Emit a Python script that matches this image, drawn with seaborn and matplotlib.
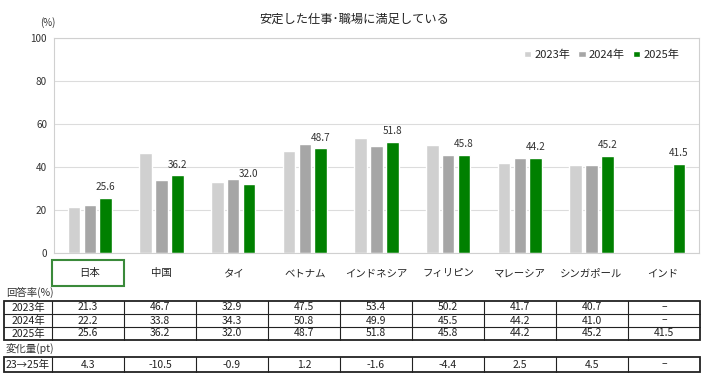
import numpy as np
import pandas as pd
import seaborn as sns
import matplotlib.pyplot as plt
from matplotlib.patches import Rectangle

countries = ["日本", "中国", "タイ", "ベトナム", "インドネシア", "フィリピン",
             "マレーシア", "シンガポール", "インド"]
years = ["2023年", "2024年", "2025年"]
rate_2023 = [21.3, 46.7, 32.9, 47.5, 53.4, 50.2, 41.7, 40.7, None]
rate_2024 = [22.2, 33.8, 34.3, 50.8, 49.9, 45.5, 44.2, 41.0, None]
rate_2025 = [25.6, 36.2, 32.0, 48.7, 51.8, 45.8, 44.2, 45.2, 41.5]
change_23_25 = [4.3, -10.5, -0.9, 1.2, -1.6, -4.4, 2.5, 4.5, None]
year_colors = {"2023年": "#d0d0d0", "2024年": "#a6a6a6", "2025年": "#008000"}

W, H = 707, 379
sns.set_theme(style="white")
plt.rcParams["font.family"] = ["Noto Sans CJK JP", "DejaVu Sans"]

df = pd.DataFrame({
    "country": countries * 3,
    "year": np.repeat(years, len(countries)),
    "rate": rate_2023 + rate_2024 + rate_2025,
}).dropna()


def px(x0, y0, x1, y1):
    return [x0 / W, 1 - y1 / H, (x1 - x0) / W, (y1 - y0) / H]


fig = plt.figure(figsize=(W / 100, H / 100), dpi=100)
ax = fig.add_axes(px(54, 38, 699, 253))
sns.barplot(data=df, x="country", y="rate", hue="year", order=countries,
            hue_order=years, palette=year_colors, width=0.66, gap=0.2,
            saturation=1, errorbar=None, ax=ax)
ax.bar_label(ax.containers[2], fmt="%.1f", padding=4, fontsize=7.2, color="#333333")

ax.set_ylim(0, 100)
ax.set_yticks(range(0, 101, 20))
ax.yaxis.grid(True, color="#dcdcdc", lw=0.8)
ax.set_axisbelow(True)
for s in ax.spines.values():
    s.set_color("#d0d0d0")
    s.set_linewidth(0.8)
ax.tick_params(axis="y", length=0, pad=5, labelsize=7.2, labelcolor="#333333")
ax.tick_params(axis="x", length=0, pad=11, labelsize=7.5, labelcolor="#222222")
ax.set_xlabel("")
ax.set_ylabel("")
ax.legend(loc="center right", bbox_to_anchor=(0.970, 0.921), ncol=3, frameon=False,
          fontsize=8, handlelength=0.65, handleheight=0.5, handletextpad=0.3,
          columnspacing=0.75, borderaxespad=0, borderpad=0)

fig.text(354 / W, 1 - 19 / H, "安定した仕事･職場に満足している", ha="center", va="center",
         fontsize=8.8, color="#222222")
fig.text(48 / W, 1 - 23 / H, "(%)", ha="center", va="center", fontsize=7, color="#333333")

# table below the chart
ov = fig.add_axes([0, 0, 1, 1])
ov.set_xlim(0, W)
ov.set_ylim(H, 0)
ov.set_axis_off()

ov.add_patch(Rectangle((52, 260), 72, 26, fill=False, edgecolor="#3a8a3a", lw=1.5))

edges = [4, 52] + [52 + 72 * (k + 1) for k in range(len(countries))]


def fmt(v):
    return "–" if v is None else f"{v:.1f}"


def draw_block(top, row_h, labels, rows, caption, cap_y):
    ov.text(6, cap_y, caption, ha="left", va="center", fontsize=7.5, color="#333333")
    bottom = top + row_h * len(rows)
    ov.add_patch(Rectangle((edges[0], top), edges[-1] - edges[0], bottom - top,
                           fill=False, edgecolor="#222222", lw=1.3))
    for x in edges[1:-1]:
        ov.plot([x, x], [top, bottom], color="#222222", lw=0.8)
    for i in range(1, len(rows)):
        y = top + row_h * i
        ov.plot([edges[0], edges[-1]], [y, y], color="#222222", lw=0.8)
    for i, (lab, vals) in enumerate(zip(labels, rows)):
        yc = top + row_h * (i + 0.5)
        ov.text((edges[0] + edges[1]) / 2, yc, lab, ha="center", va="center",
                fontsize=7.5, color="#222222")
        for j, v in enumerate(vals):
            ov.text((edges[j + 1] + edges[j + 2]) / 2, yc, fmt(v), ha="center",
                    va="center", fontsize=7.5, color="#222222")


draw_block(301, 13, years, [rate_2023, rate_2024, rate_2025], "回答率(%)", 292)
draw_block(357, 15, ["23→25年"], [change_23_25], "変化量(pt)", 348)

fig.savefig("out.png", dpi=100)
